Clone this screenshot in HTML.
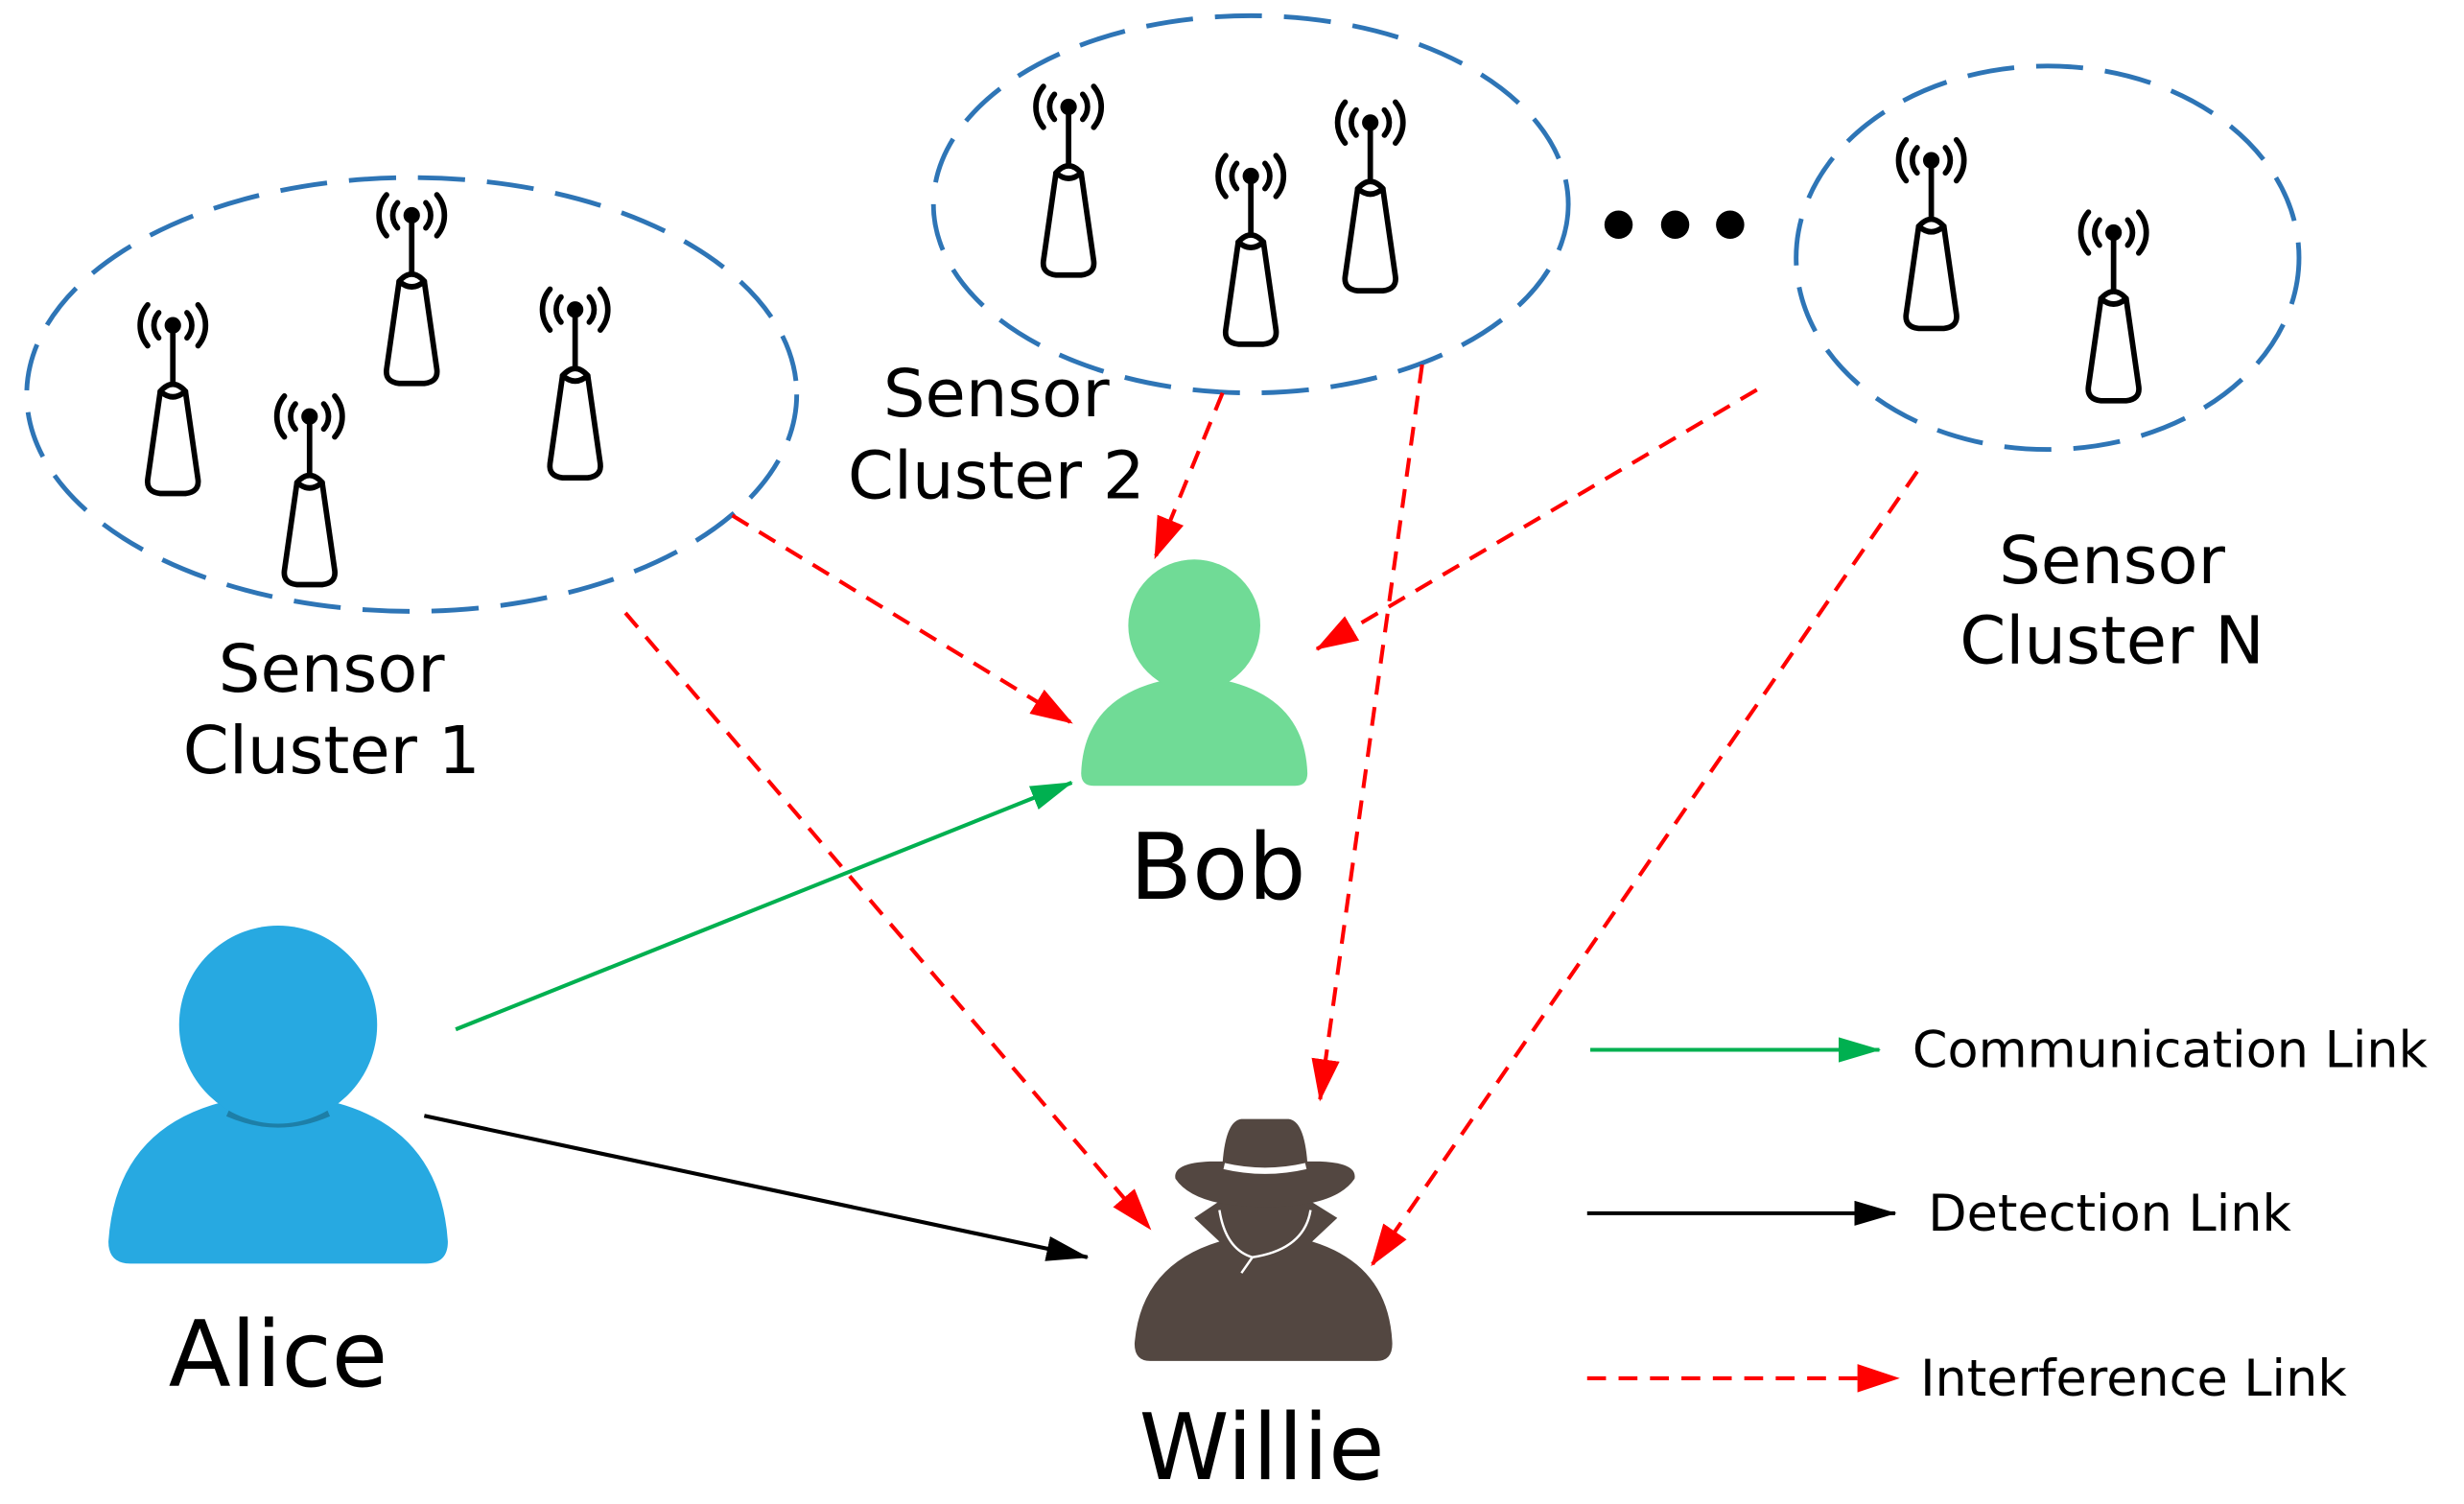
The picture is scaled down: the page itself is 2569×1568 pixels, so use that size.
<!DOCTYPE html>
<html><head><meta charset="utf-8"><style>html,body{margin:0;padding:0;background:#fff}svg{display:block}</style></head><body>
<svg width="2569" height="1568" viewBox="0 0 1568 957" preserveAspectRatio="none" xmlns="http://www.w3.org/2000/svg" font-family="'DejaVu Sans','Liberation Sans',sans-serif">
<defs>
<marker id="ar" markerUnits="userSpaceOnUse" markerWidth="30" markerHeight="20" refX="26" refY="9" orient="auto"><path d="M0,0 L27,9 L0,18 Z" fill="#ff0000"/></marker>
<marker id="ag" markerUnits="userSpaceOnUse" markerWidth="30" markerHeight="20" refX="26" refY="8" orient="auto"><path d="M0,0 L27,8 L0,16 Z" fill="#00b050"/></marker>
<marker id="ab" markerUnits="userSpaceOnUse" markerWidth="30" markerHeight="20" refX="26" refY="8" orient="auto"><path d="M0,0 L27,8 L0,16 Z" fill="#000"/></marker>
<g id="s" fill="none" stroke="#000" stroke-width="3.5" stroke-linecap="round">
<circle cx="0" cy="0" r="3.5" fill="#000"/>
<line x1="0" y1="0" x2="0" y2="36"/>
<path d="M-9,-8 A12,12 0 0 0 -9,8 M9,-8 A12,12 0 0 1 9,8 M-16,-13 A20,20 0 0 0 -16,13 M16,-13 A20,20 0 0 1 16,13"/>
<path d="M-8,42 Q0,33 8,42 L16,98 Q17,106 8,107 L-8,107 Q-17,106 -16,98 Z"/>
<path d="M-8,42 Q0,49 8,42"/>
</g>
</defs>
<g fill="none" stroke="#2e75b6" stroke-width="3" stroke-dasharray="30 14">
<ellipse cx="262" cy="251" rx="245" ry="138"/>
<ellipse cx="796" cy="130" rx="202" ry="120"/>
<ellipse cx="1303" cy="164" rx="160" ry="122"/>
</g>
<use href="#s" x="110" y="207"/><use href="#s" x="262" y="137"/><use href="#s" x="366" y="197"/><use href="#s" x="197" y="265"/>
<use href="#s" x="680" y="68"/><use href="#s" x="796" y="112"/><use href="#s" x="872" y="78"/>
<use href="#s" x="1229" y="102"/><use href="#s" x="1345" y="148"/>
<circle cx="1030" cy="143" r="9"/><circle cx="1066" cy="143" r="9"/><circle cx="1101" cy="143" r="9"/>
<!-- Bob -->
<path d="M688,492 Q690,436 760,430 Q830,436 832,492 Q832,500 824,500 L696,500 Q688,500 688,492 Z" fill="#70db96"/>
<circle cx="760" cy="398" r="42" fill="#70db96"/>
<!-- Alice -->
<path d="M69,790 Q75,702 177,696 Q279,702 285,790 Q285,804 271,804 L83,804 Q69,804 69,790 Z" fill="#27a9e1"/>
<path d="M145,708 Q177,722 209,708" fill="none" stroke="#1d7fa8" stroke-width="5"/>
<circle cx="177" cy="652" r="63" fill="#27a9e1"/>
<!-- Willie -->
<g fill="#534741">
<path d="M722,855 Q726,805 776,790 L760,775 L775,765 L835,765 L851,775 L835,790 Q884,805 886,855 Q886,866 876,866 L732,866 Q722,866 722,855 Z"/>
<path d="M778,740 Q780,713 790,712 L820,712 Q830,713 832,740 Z"/>
<path d="M748,750 Q746,740 770,739 L840,739 Q864,740 862,750 Q850,768 805,768 Q760,768 748,750 Z"/>
</g>
<path d="M779,742 Q805,748 831,742" fill="none" stroke="#fff" stroke-width="4"/>
<path d="M776,770 Q780,795 797,800 L790,810 M797,800 Q830,795 834,770" fill="none" stroke="#fff" stroke-width="1.5"/>
<!-- links -->
<g stroke="#ff0000" stroke-width="2.5" stroke-dasharray="12 8" fill="none" marker-end="url(#ar)">
<line x1="466" y1="328" x2="682" y2="460"/>
<line x1="398" y1="390" x2="732" y2="782"/>
<line x1="778" y1="250" x2="735" y2="355"/>
<line x1="905" y1="232" x2="840" y2="700"/>
<line x1="1118" y1="248" x2="838" y2="413"/>
<line x1="1220" y1="300" x2="873" y2="805"/>
<line x1="1010" y1="877" x2="1208" y2="877"/>
</g>
<line x1="290" y1="655" x2="682" y2="498" stroke="#00b050" stroke-width="2.5" marker-end="url(#ag)"/>
<line x1="1012" y1="668" x2="1196" y2="668" stroke="#00b050" stroke-width="2.5" marker-end="url(#ag)"/>
<line x1="270" y1="710" x2="692" y2="800" stroke="#000" stroke-width="2.5" marker-end="url(#ab)"/>
<line x1="1010" y1="772" x2="1206" y2="772" stroke="#000" stroke-width="2.5" marker-end="url(#ab)"/>
<g font-size="42" text-anchor="middle" fill="#000">
<text x="211" y="440">Sensor</text><text x="211" y="492">Cluster 1</text>
<text x="634" y="265">Sensor</text><text x="634" y="317">Cluster 2</text>
<text x="1344" y="371">Sensor</text><text x="1344" y="422">Cluster N</text>
</g>
<g font-size="58" text-anchor="middle" fill="#000">
<text x="775" y="572">Bob</text><text x="177" y="882">Alice</text><text x="803" y="941">Willie</text>
</g>
<g font-size="32" fill="#000">
<text x="1217" y="679">Communication Link</text>
<text x="1227" y="783">Detection Link</text>
<text x="1222" y="888">Interference Link</text>
</g>
</svg>
</body></html>
